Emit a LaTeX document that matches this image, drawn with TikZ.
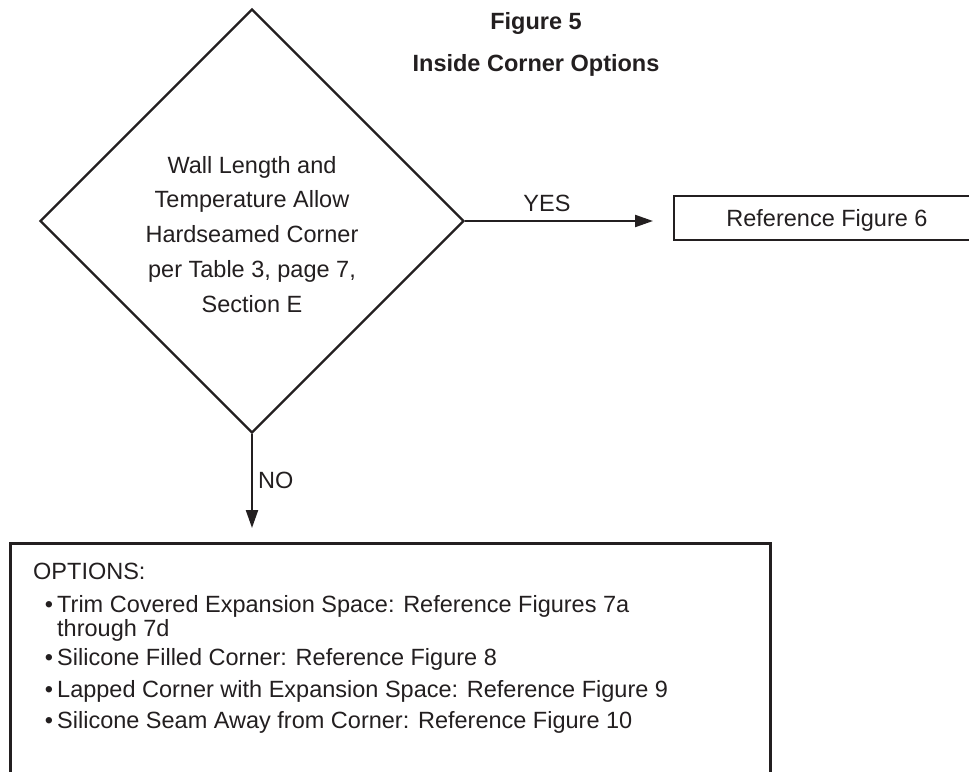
\documentclass[tikz,border=0pt]{standalone}
\usepackage{fontspec}
\setmainfont{Liberation Sans}
\usetikzlibrary{shapes.geometric,arrows.meta}
\definecolor{ink}{HTML}{231F20}
\begin{document}
\begin{tikzpicture}[x=1pt,y=-1pt,
  every node/.style={text=ink, font=\fontsize{23.5}{34.7}\selectfont, inner sep=0pt},
  decision/.style={draw=ink, line width=2.2pt, diamond, aspect=1, minimum width=424pt, minimum height=424pt},
  refbox/.style={draw=ink, line width=2.8pt, rectangle},
  flow/.style={draw=ink, line width=2.2pt, -{Triangle[length=18pt,width=12pt]}},
  titletext/.style={font=\fontsize{23.5}{28}\selectfont\bfseries, anchor=base},
  opttext/.style={anchor=base west}
]
\useasboundingbox (0,0) rectangle (969,771);
\fill[white] (0,0) rectangle (969,771);

% title
\node[titletext] (t1) at (536,29) {Figure 5};
\node[titletext] (t2) at (536,71) {Inside Corner Options};

% decision
\node[decision] (d) at (252,221) {};
\node[align=center, anchor=north] (dtext) at (252,156)
  {Wall Length and\\Temperature Allow\\Hardseamed Corner\\per Table 3, page 7,\\Section E};

% reference figure 6 box
\node[refbox, minimum width=306pt, minimum height=44pt] (r6) at (827,218) {};
\node[anchor=base] (r6text) at (827,226) {Reference Figure 6};

% options box
\node[refbox, anchor=north west, minimum width=760pt, minimum height=260pt] (opt) at (9,542) {};

% connectors
\coordinate (yesend) at (653,221);
\draw[flow] (d.east) -- (yesend);
\node[anchor=base] (yes) at (547,211) {YES};

\coordinate (noend) at (252,528);
\draw[flow] (d.south) -- (noend);
\node[anchor=base west] (no) at (258,488) {NO};

% options text
\node[opttext] (o0) at (33,579) {OPTIONS:};
\node[anchor=base] (b1) at (49,612) {\textbullet};
\node[opttext] (o1) at (57,612) {Trim Covered Expansion Space: Reference Figures 7a};
\node[opttext] (o1b) at (57,636) {through 7d};
\node[anchor=base] (b2) at (49,665) {\textbullet};
\node[opttext] (o2) at (57,665) {Silicone Filled Corner: Reference Figure 8};
\node[anchor=base] (b3) at (49,697) {\textbullet};
\node[opttext] (o3) at (57,697) {Lapped Corner with Expansion Space: Reference Figure 9};
\node[anchor=base] (b4) at (49,728) {\textbullet};
\node[opttext] (o4) at (57,728) {Silicone Seam Away from Corner: Reference Figure 10};
\end{tikzpicture}
\end{document}
